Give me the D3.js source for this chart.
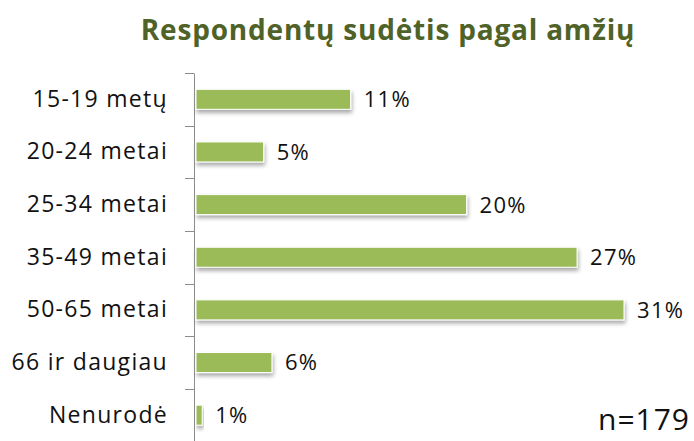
<!DOCTYPE html>
<html>
<head>
<meta charset="utf-8">
<script src="https://cdn.jsdelivr.net/npm/d3@7"></script>
<style>
  body { margin: 0; background: #fff; }
  text { font-family: "Open Sans", "Noto Sans", sans-serif; }
</style>
</head>
<body>
<svg id="chart"></svg>
<script>
var categories = ["15-19 metų", "20-24 metai", "25-34 metai", "35-49 metai", "50-65 metai", "66 ir daugiau", "Nenurodė"]
var shares = [11.2, 4.9, 19.6, 27.6, 31.0, 5.5, 0.45]
var shareLabels = ["11%", "5%", "20%", "27%", "31%", "6%", "1%"]
var title = "Respondentų sudėtis pagal amžių"
var sampleNote = "n=179"

var dimensions = {
	width: 694,
	height: 441,
	margin: { top: 73, bottom: 0, right: 70, left: 194 }
}

var svg = d3.select("#chart")
	.attr("width", dimensions.width)
	.attr("height", dimensions.height)

var defs = svg.append("defs")
var shadow = defs.append("filter")
	.attr("id", "shadow")
	.attr("x", "-10%").attr("y", "-30%")
	.attr("width", "130%").attr("height", "190%")
shadow.append("feGaussianBlur").attr("in", "SourceAlpha").attr("stdDeviation", 2)
shadow.append("feOffset").attr("dx", 1).attr("dy", 3).attr("result", "off")
shadow.append("feComponentTransfer").append("feFuncA").attr("type", "linear").attr("slope", 0.35)
var merge = shadow.append("feMerge")
merge.append("feMergeNode")
merge.append("feMergeNode").attr("in", "SourceGraphic")

var yScale = d3.scaleBand()
	.domain(categories)
	.range([dimensions.margin.top, dimensions.height + 0.5])
	.paddingInner(0.62)
	.paddingOuter(0.31)

var xScale = d3.scaleLinear()
	.domain([0, 31])
	.range([dimensions.margin.left + 2, 624])

// bars
svg.append("g")
	.selectAll("rect")
	.data(shares)
	.enter()
	.append("rect")
	.attr("x", xScale(0))
	.attr("y", (d, i) => yScale(categories[i]))
	.attr("width", d => xScale(d) - xScale(0))
	.attr("height", yScale.bandwidth())
	.attr("fill", "#9bbb59")
	.attr("stroke", "#ffffff")
	.attr("stroke-width", 1)
	.attr("filter", "url(#shadow)")

// value labels
svg.append("g")
	.selectAll("text")
	.data(shares)
	.enter()
	.append("text")
	.attr("x", d => xScale(d) + 13)
	.attr("y", (d, i) => yScale(categories[i]) + yScale.bandwidth() / 2)
	.attr("dy", "0.36em")
	.style("font-size", "22px")
	.style("letter-spacing", "1.3px")
	.style("fill", "#111")
	.text((d, i) => shareLabels[i])

// category axis
var yAxisgen = d3.axisLeft(yScale).tickSize(0).tickPadding(26)
var yAxis = svg.append("g")
	.attr("transform", `translate(${dimensions.margin.left},0)`)
	.call(yAxisgen)
yAxis.select(".domain").attr("stroke", "#8c8c8c")
yAxis.selectAll("text")
	.style("font-size", "23px")
	.style("letter-spacing", "1.3px")
	.style("fill", "#111")
	.style("font-family", "'Open Sans', sans-serif")

// ticks between categories
var boundaries = categories.map(c => yScale(c) - yScale.step() * yScale.paddingInner() / 2)
svg.append("g")
	.selectAll("line")
	.data(boundaries)
	.enter()
	.append("line")
	.attr("x1", dimensions.margin.left - 9)
	.attr("x2", dimensions.margin.left)
	.attr("y1", d => Math.round(d) + 0.5)
	.attr("y2", d => Math.round(d) + 0.5)
	.attr("stroke", "#8c8c8c")

// title
svg.append("text")
	.attr("x", 388)
	.attr("y", 40)
	.attr("text-anchor", "middle")
	.style("font-size", "28px")
	.style("letter-spacing", "0.8px")
	.style("font-weight", "bold")
	.style("fill", "#4f6228")
	.text(title)

svg.append("text")
	.attr("x", 690)
	.attr("y", 430)
	.attr("text-anchor", "end")
	.style("font-size", "30px")
	.style("letter-spacing", "1px")
	.style("fill", "#111")
	.text(sampleNote)
</script>
</body>
</html>
